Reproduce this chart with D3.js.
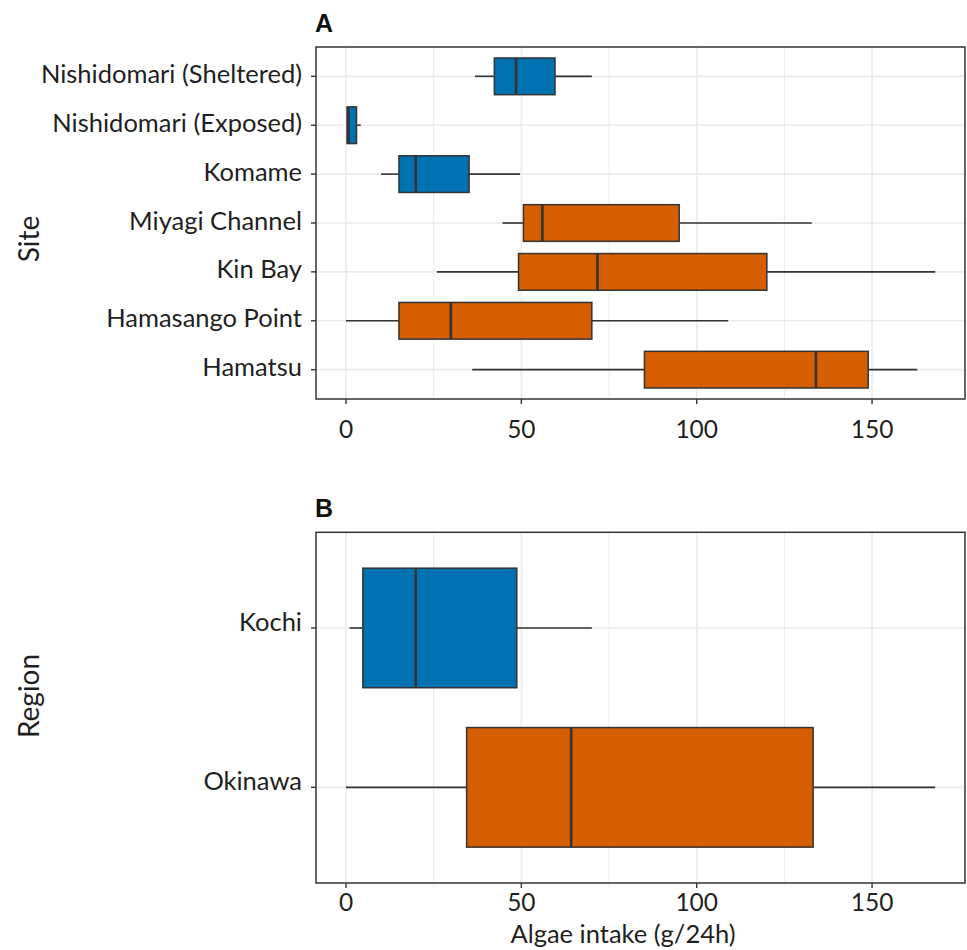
<!DOCTYPE html>
<html><head><meta charset="utf-8">
<script src="https://cdn.jsdelivr.net/npm/d3@7"></script>
<style>body{margin:0;background:#fff;} svg{display:block;}</style>
</head><body>
<script>
// ---- data ----
const sites = ["Nishidomari (Sheltered)","Nishidomari (Exposed)","Komame","Miyagi Channel","Kin Bay","Hamasango Point","Hamatsu"];
const siteRegion = ["Kochi","Kochi","Kochi","Okinawa","Okinawa","Okinawa","Okinawa"];
const siteLow    = [36.8, 0.3, 10.0, 44.6, 25.9, 0.0, 36.0];
const siteQ1     = [42.3, 0.3, 15.1, 50.6, 49.2, 15.1, 85.1];
const siteMedian = [48.5, 0.7, 19.9, 56.0, 71.7, 29.9, 134.0];
const siteQ3     = [59.6, 3.0, 35.1, 95.0, 120.0, 70.1, 148.9];
const siteHigh   = [70.1, 4.2, 49.6, 132.8, 168.0, 109.0, 162.9];

const regions   = ["Kochi","Okinawa"];
const regLow    = [1.0, 0.0];
const regQ1     = [4.8, 34.4];
const regMedian = [19.9, 64.2];
const regQ3     = [48.7, 133.2];
const regHigh   = [70.1, 168.0];

const xTicks = [0, 50, 100, 150];
const xMinor = [25, 75, 125];
const regionColors = {Kochi: "#0072B2", Okinawa: "#D55E00"};

// ---- layout ----
const W = 967, H = 950;
const svg = d3.select("body").append("svg").attr("width", W).attr("height", H);
const FONT = "Lato, 'Open Sans', sans-serif";
const txtCol = "#1f1f1f", lineCol = "#333333", gridCol = "#ebebeb";

const x = d3.scaleLinear().domain([-8.55, 176.5]).range([316, 965]);

function panel(opts) {
  const {cats, colors, low, q1, med, q3, high, top, bottom, tag, tagY, ytitle, ytitleY, labelDy, tickLabelY, xtitle} = opts;
  const g = svg.append("g");
  const y = d3.scalePoint().domain(cats).range([top, bottom]).padding(0.6);
  const step = y.step();
  const bh = step * 0.75;

  // grid
  g.selectAll(".minor").data(xMinor).join("line")
    .attr("x1", d => x(d)).attr("x2", d => x(d)).attr("y1", top).attr("y2", bottom)
    .attr("stroke", gridCol).attr("stroke-width", 1);
  g.selectAll(".major").data(xTicks).join("line")
    .attr("x1", d => x(d)).attr("x2", d => x(d)).attr("y1", top).attr("y2", bottom)
    .attr("stroke", gridCol).attr("stroke-width", 1.6);
  g.selectAll(".hg").data(cats).join("line")
    .attr("x1", x.range()[0]).attr("x2", x.range()[1]).attr("y1", d => y(d)).attr("y2", d => y(d))
    .attr("stroke", gridCol).attr("stroke-width", 1.6);

  // boxes and whiskers
  cats.forEach((c, i) => {
    const cy = y(c);
    g.append("line").attr("x1", x(low[i])).attr("x2", x(q1[i])).attr("y1", cy).attr("y2", cy)
      .attr("stroke", lineCol).attr("stroke-width", 1.6);
    g.append("line").attr("x1", x(q3[i])).attr("x2", x(high[i])).attr("y1", cy).attr("y2", cy)
      .attr("stroke", lineCol).attr("stroke-width", 1.6);
    g.append("rect").attr("x", x(q1[i])).attr("y", cy - bh / 2)
      .attr("width", x(q3[i]) - x(q1[i])).attr("height", bh)
      .attr("fill", regionColors[colors[i]]).attr("stroke", lineCol).attr("stroke-width", 1.5);
    g.append("line").attr("x1", x(med[i])).attr("x2", x(med[i])).attr("y1", cy - bh / 2).attr("y2", cy + bh / 2)
      .attr("stroke", lineCol).attr("stroke-width", 2.6);
  });

  // border
  g.append("rect").attr("x", x.range()[0]).attr("y", top).attr("width", x.range()[1] - x.range()[0])
    .attr("height", bottom - top).attr("fill", "none").attr("stroke", lineCol).attr("stroke-width", 1.5);

  // y ticks + labels
  g.selectAll(".yt").data(cats).join("line")
    .attr("x1", x.range()[0] - 5).attr("x2", x.range()[0]).attr("y1", d => y(d)).attr("y2", d => y(d))
    .attr("stroke", lineCol).attr("stroke-width", 1.4);
  g.selectAll(".yl").data(cats).join("text")
    .attr("x", 302).attr("y", d => y(d) + labelDy)
    .attr("text-anchor", "end").attr("font-family", FONT).attr("font-size", 25.5)
    .attr("fill", txtCol).text(d => d);

  // x ticks + labels
  g.selectAll(".xt").data(xTicks).join("line")
    .attr("x1", d => x(d)).attr("x2", d => x(d)).attr("y1", bottom).attr("y2", bottom + 5)
    .attr("stroke", lineCol).attr("stroke-width", 1.4);
  g.selectAll(".xl").data(xTicks).join("text")
    .attr("x", d => x(d)).attr("y", tickLabelY)
    .attr("text-anchor", "middle").attr("font-family", FONT).attr("font-size", 24.5)
    .attr("fill", txtCol).text(d => d);

  // tag
  g.append("text").attr("x", 315).attr("y", tagY).attr("font-family", "'Liberation Sans', Arial, sans-serif")
    .attr("font-weight", "bold").attr("font-size", 25).attr("fill", "#111").text(tag);

  // y title
  g.append("text").attr("transform", `translate(39,${ytitleY}) rotate(-90)`)
    .attr("text-anchor", "middle").attr("font-family", FONT).attr("font-size", 28)
    .attr("fill", txtCol).text(ytitle);

  if (xtitle) {
    g.append("text").attr("x", 623).attr("y", 943).attr("text-anchor", "middle")
      .attr("font-family", FONT).attr("font-size", 25.5).attr("fill", txtCol).text(xtitle);
  }
}

panel({cats: sites, colors: siteRegion, low: siteLow, q1: siteQ1, med: siteMedian, q3: siteQ3, high: siteHigh,
  top: 47, bottom: 399, tag: "A", tagY: 32, ytitle: "Site", ytitleY: 239, labelDy: 6.5, tickLabelY: 438});
panel({cats: regions, colors: regions, low: regLow, q1: regQ1, med: regMedian, q3: regQ3, high: regHigh,
  top: 532.3, bottom: 883, tag: "B", tagY: 517, ytitle: "Region", ytitleY: 696, labelDy: 3, tickLabelY: 911,
  xtitle: "Algae intake (g/24h)"});
</script>
</body></html>
